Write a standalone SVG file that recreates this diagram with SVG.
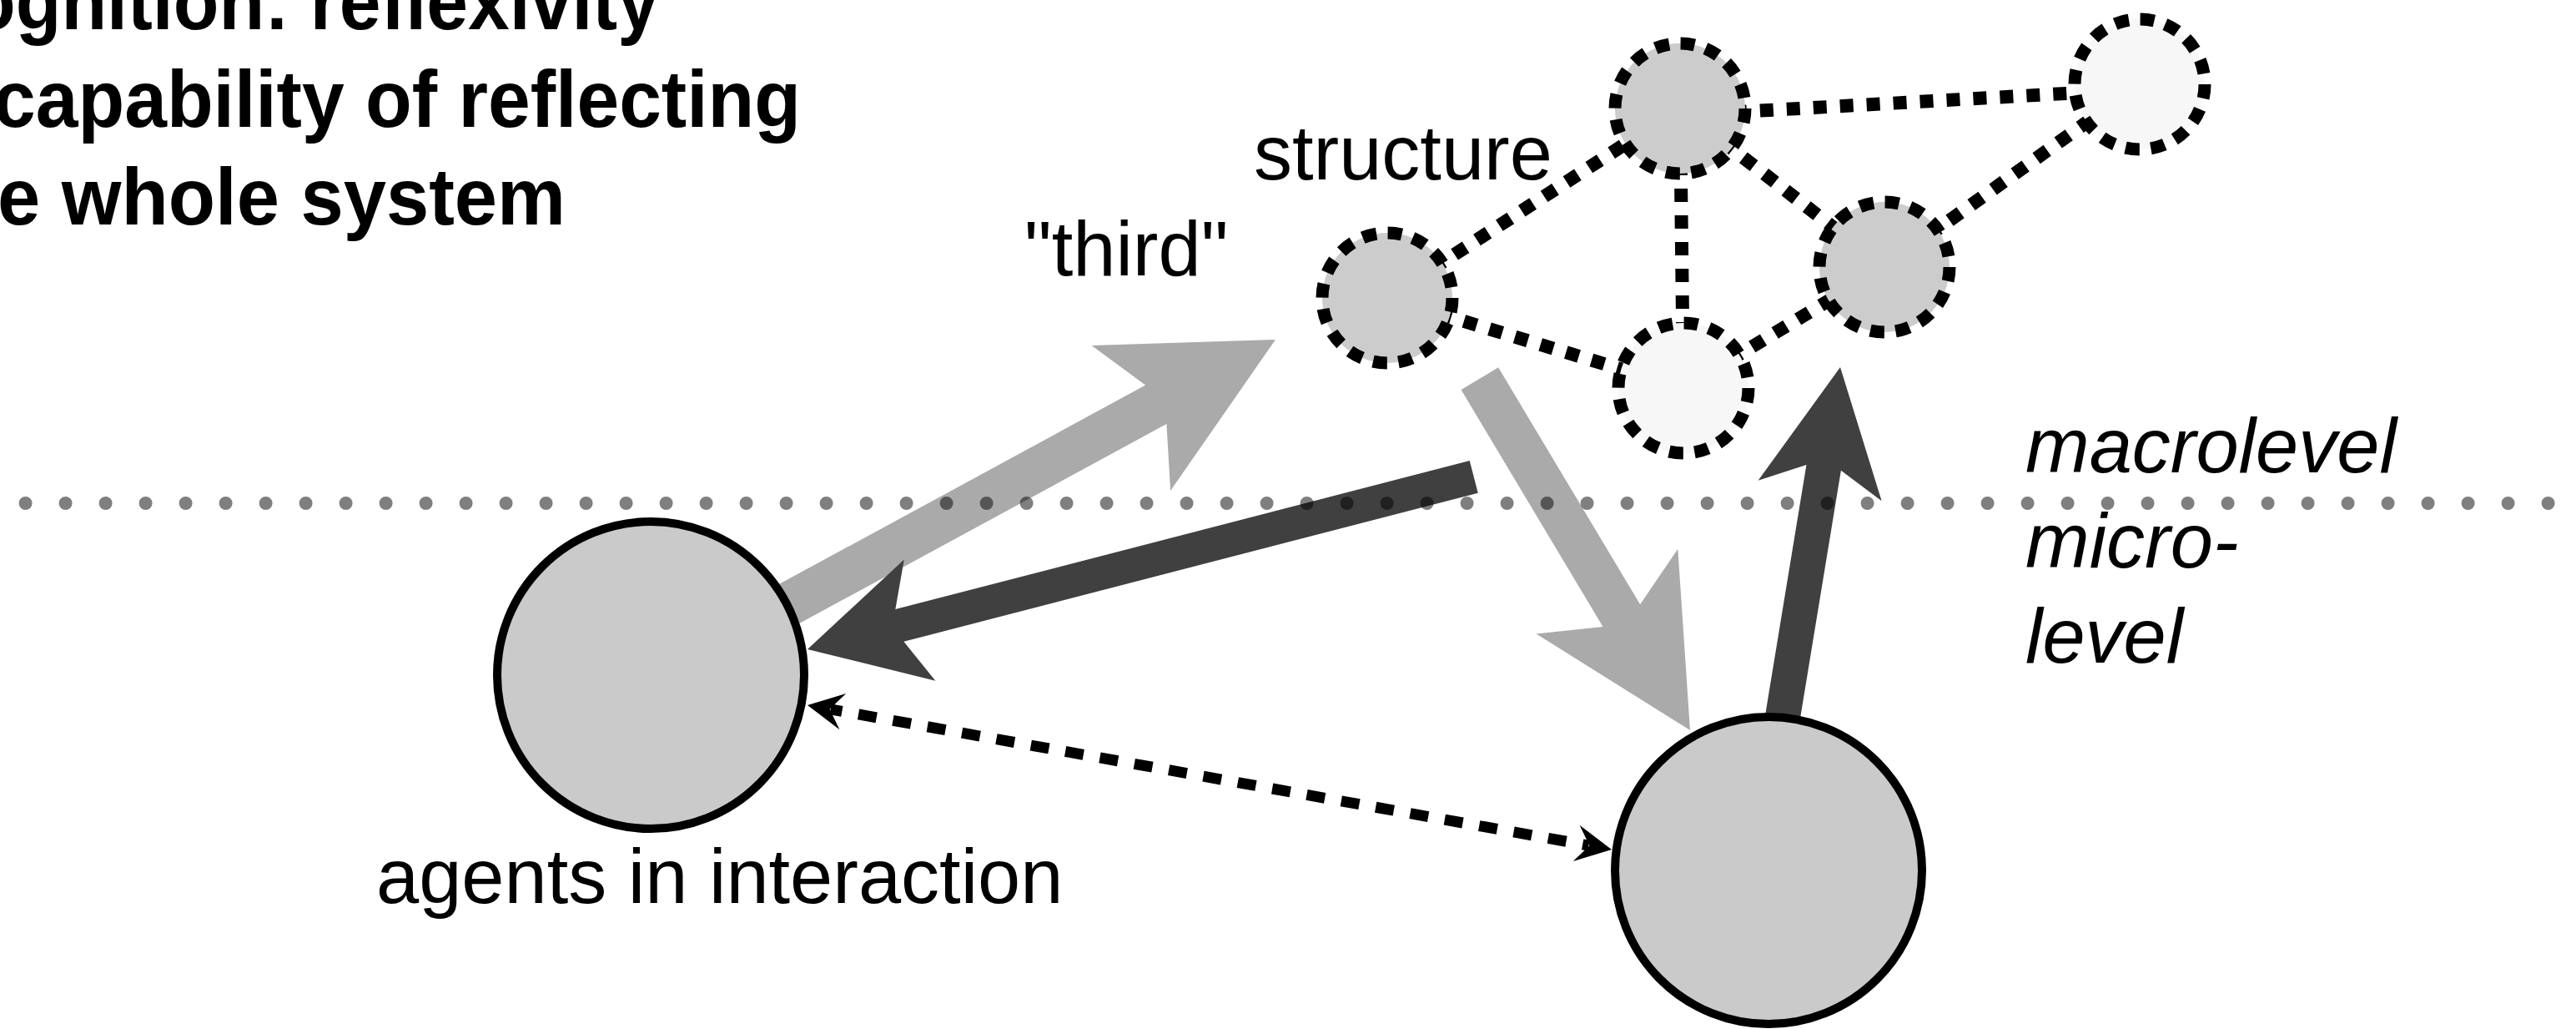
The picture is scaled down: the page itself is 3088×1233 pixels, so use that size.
<svg xmlns="http://www.w3.org/2000/svg" width="3088" height="1233" viewBox="0 0 3088 1233">
  <style>
    .edge { fill: none; stroke: #000; stroke-width: 16; stroke-dasharray: 16 16; }
    .snode { stroke: #000; stroke-width: 15; stroke-dasharray: 17 13.63; }
    .snode.grey { fill: #cccccc; }
    .snode.pale { fill: #f7f7f7; }
    .agent { fill: #cacaca; stroke: #000; stroke-width: 10; }
    .arrow-light { fill: #aaaaaa; }
    .arrow-dark { fill: #404040; }
    .link { fill: none; stroke: #000; stroke-width: 13; stroke-dasharray: 22 20; stroke-dashoffset: 8; }
    .head { fill: #000; }
    .divider { fill: none; stroke: #000; stroke-opacity: 0.5; stroke-width: 16; stroke-linecap: round; stroke-dasharray: 0 48; }
    .note { font-family: "Liberation Sans", Arial, Helvetica, sans-serif; font-weight: bold; font-size: 96px; fill: #000; }
    .label { font-family: "Liberation Sans", Arial, Helvetica, sans-serif; font-size: 92px; fill: #000; }
    .level { font-family: "Liberation Sans", Arial, Helvetica, sans-serif; font-style: italic; font-size: 92px; fill: #000; }
  </style>
  <defs>
    <!-- small notched head for the dashed interaction link -->
    <path id="smallHead" class="head" d="M0,0 L-43,-22 L-27,0 L-43,22 Z"/>
  </defs>

  <rect width="3088" height="1233" fill="#ffffff"/>

  <!-- connectors: structure edges and the causal arrows -->
  <g id="connectors">
    <line class="edge" x1="1663" y1="357" x2="2014" y2="130"/>
    <line class="edge" x1="1663" y1="357" x2="2018" y2="465"/>
    <line class="edge" x1="2014" y1="130" x2="2018" y2="465"/>
    <line class="edge" x1="2014" y1="130" x2="2259" y2="320"/>
    <line class="edge" x1="2014" y1="138" x2="2565" y2="107"/>
    <line class="edge" x1="2259" y1="320" x2="2565" y2="101"/>
    <line class="edge" x1="2018" y1="465" x2="2259" y2="320"/>

    <!-- agent -> "third" (emergence) -->
    <polygon id="arrow-emerge" class="arrow-light" transform="translate(1529 407) rotate(-28.5)"
             points="0,0 -197,-99 -163,-26.5 -850,-26.5 -850,26.5 -163,26.5 -197,99"/>
    <!-- structure -> agent (constraint) -->
    <polygon id="arrow-constrain" class="arrow-dark" transform="translate(968 778) rotate(165.5)"
             points="0,0 -139,-75 -114,-20 -825,-20 -825,20 -114,20 -139,75"/>
    <!-- structure -> second agent -->
    <polygon id="arrow-down" class="arrow-light" transform="translate(2026 875) rotate(59.1)"
             points="0,0 -194,-99 -160,-26 -491,-26 -491,26 -160,26 -194,99"/>
    <!-- second agent -> structure -->
    <polygon id="arrow-up" class="arrow-dark" transform="translate(2206 440) rotate(-80.65)"
             points="0,0 -150,-75 -122,-21 -500,-21 -500,21 -122,21 -150,75"/>

    <!-- interaction between the agents -->
    <g id="interaction-link">
      <line class="link" x1="995.6" y1="849.9" x2="1904.4" y2="1013.1"/>
      <use href="#smallHead" transform="translate(1932 1018) rotate(10.17)"/>
      <use href="#smallHead" transform="translate(968 845) rotate(190.17)"/>
    </g>
  </g>

  <!-- structure nodes (macrolevel) -->
  <g id="node-third"><circle class="snode grey" cx="1663" cy="357" r="78"/></g>
  <g id="node-top"><circle class="snode grey" cx="2014" cy="130" r="78"/></g>
  <g id="node-far"><circle class="snode pale" cx="2565" cy="101" r="78"/></g>
  <g id="node-right"><circle class="snode grey" cx="2259" cy="320" r="78"/></g>
  <g id="node-bottom"><circle class="snode pale" cx="2018" cy="465" r="78"/></g>

  <!-- agents (microlevel) -->
  <g id="agent-left"><circle class="agent" cx="780" cy="809" r="184"/></g>
  <g id="agent-right"><circle class="agent" cx="2120" cy="1043" r="184"/></g>

  <!-- macro / micro divider -->
  <g id="level-divider">
    <line class="divider" x1="30.6" y1="603" x2="3055" y2="603"/>
  </g>

  <!-- labels -->
  <g id="labels">
    <text class="note" x="-36" y="35" textLength="826" lengthAdjust="spacingAndGlyphs">ognition: reflexivity</text>
    <text class="note" x="-8" y="152" textLength="968" lengthAdjust="spacingAndGlyphs">capability of reflecting</text>
    <text class="note" x="-3" y="269" textLength="681" lengthAdjust="spacingAndGlyphs">e whole system</text>
    <text class="label" x="1503" y="215">structure</text>
    <text class="label" x="1228" y="330">"third"</text>
    <text class="label" x="451" y="1082">agents in interaction</text>
    <text class="level" x="2428" y="566">macrolevel</text>
    <text class="level" x="2428" y="680">micro-</text>
    <text class="level" x="2428" y="794">level</text>
  </g>
</svg>
